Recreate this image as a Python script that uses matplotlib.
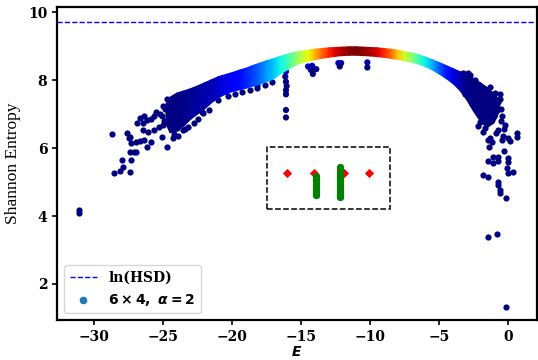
import matplotlib
matplotlib.use("Agg")
import matplotlib.pyplot as plt
import numpy as np
from matplotlib.patches import Rectangle

plt.rcParams['font.family'] = ['DejaVu Serif']
plt.rcParams['mathtext.fontset'] = 'dejavusans'
plt.rcParams['font.weight'] = 'bold'

# ---------------- data ----------------
hsd_level = 9.71  # ln(HSD)

# dense band of eigenstates: energy, upper / lower edge of entropy, point density (0..1)
band_E = [-24.8, -24.5, -24.0, -23.5, -23.0, -22.5, -22.0, -21.5, -21.0, -20.5,
          -20.0, -19.5, -19.0, -18.5, -18.0, -17.5, -17.0, -16.5, -16.0, -15.5,
          -15.0, -14.5, -14.0, -13.5, -13.0, -12.5, -12.0, -11.5, -11.0, -10.5,
          -10.0, -9.5, -9.0, -8.5, -8.0, -7.5, -7.0, -6.5, -6.0, -5.5,
          -5.0, -4.5, -4.0, -3.5, -3.0, -2.5, -2.0, -1.5, -1.0, -0.6]
band_hi = [7.30, 7.50, 7.62, 7.68, 7.75, 7.83, 7.92, 8.01, 8.10, 8.16,
           8.22, 8.29, 8.35, 8.43, 8.50, 8.57, 8.63, 8.70, 8.76, 8.81,
           8.85, 8.88, 8.91, 8.93, 8.95, 8.96, 8.97, 8.98, 8.98, 8.97,
           8.96, 8.95, 8.93, 8.91, 8.88, 8.84, 8.80, 8.75, 8.68, 8.60,
           8.52, 8.43, 8.34, 8.25, 8.18, 8.05, 7.92, 7.78, 7.60, 7.40]
band_lo = [6.70, 6.45, 6.50, 6.65, 6.85, 7.00, 7.15, 7.33, 7.48, 7.58,
           7.66, 7.71, 7.76, 7.82, 7.88, 7.95, 8.03, 8.18, 8.30, 8.42,
           8.50, 8.56, 8.60, 8.64, 8.67, 8.70, 8.72, 8.73, 8.73, 8.72,
           8.71, 8.69, 8.67, 8.64, 8.61, 8.57, 8.53, 8.47, 8.40, 8.30,
           8.18, 8.05, 7.90, 7.70, 7.42, 7.08, 6.78, 6.60, 6.75, 7.10]
band_c = [0.00, 0.00, 0.00, 0.01, 0.02, 0.03, 0.04, 0.05, 0.07, 0.09,
          0.11, 0.13, 0.16, 0.19, 0.23, 0.28, 0.32, 0.37, 0.42, 0.50,
          0.57, 0.64, 0.72, 0.80, 0.87, 0.92, 0.96, 0.99, 1.00, 0.99,
          0.96, 0.92, 0.87, 0.80, 0.70, 0.60, 0.52, 0.43, 0.36, 0.30,
          0.22, 0.15, 0.09, 0.04, 0.01, 0.00, 0.00, 0.00, 0.00, 0.00]

# sparse (low-density) eigenstates
sparse_E = [-31.1, -31.1, -28.7, -27.6, -27.5, -27.3, -27.0, -26.7, -27.4, -27.0,
            -28.0, -27.3, -27.9, -28.1, -28.6, -27.4, -26.5, -26.2, -27.4, -26.9,
            -26.7, -26.4, -25.9, -25.7, -26.5, -26.1, -25.7, -26.4, -25.9, -26.2,
            -27.1, -24.7, -25.1, -25.3, -25.0, -23.6, -24.0, -22.1, -21.7, -25.2,
            -24.9, -25.5, -24.6, -24.3, -23.9, -23.2, -22.8, -22.5,
            -21.0, -20.3, -19.8, -19.3, -18.7, -18.2, -17.6, -17.1, -22.2, -19.3,
            -18.2, -25.0, -25.1, -24.95, -24.7, -24.2, -23.4,
            -3.3, -2.9, -2.75, -2.4, -2.1, -1.7, -1.3, -1.1, -0.94, -0.9,
            -0.7, -0.58, -0.46, -0.22, -0.34, 0.14, 0.65, 0.65, 0.0, -0.7,
            -1.3, -2.0, -1.8, -0.82, -1.54, -1.45, -1.18, -0.46, -1.38, -0.27,
            -1.43, -1.07, -0.7, -1.07, -0.7, 0.02, 0.02, -0.1, 0.34, 0.02,
            -1.79, -1.43, -0.75, -0.7, -0.58, -0.58, -0.15, -1.43, -0.78, -0.17,
            -1.0, -0.5, -1.2, -1.7, -2.2, -0.9, -0.3, -0.5, -0.6, -2.6, -3.1]
sparse_S = [4.18, 4.10, 6.40, 6.45, 6.29, 6.14, 6.19, 6.21, 5.89, 5.89,
            5.65, 5.65, 5.43, 5.32, 5.27, 5.30, 6.73, 6.82, 6.33, 6.74,
            6.87, 6.94, 6.84, 6.94, 6.53, 6.48, 6.53, 6.24, 6.19, 6.04,
            5.89, 6.04, 6.33, 6.63, 6.68, 6.53, 6.58, 7.04, 7.12, 7.00,
            7.15, 7.05, 6.90, 6.30, 6.35, 6.62, 6.75, 6.85,
            7.42, 7.52, 7.60, 7.66, 7.72, 7.78, 7.86, 7.95, 7.07, 7.85,
            7.85, 7.25, 6.95, 6.80, 7.45, 6.40, 6.55,
            8.22, 8.20, 8.15, 8.00, 7.85, 7.70, 7.80, 7.50, 7.61, 7.25,
            7.36, 7.45, 6.95, 6.68, 6.35, 6.22, 6.45, 6.32, 6.29, 6.53,
            6.29, 6.77, 6.48, 7.12, 6.92, 6.24, 6.19, 6.24, 6.04, 5.92,
            5.63, 5.74, 5.74, 5.55, 5.63, 5.70, 5.60, 5.40, 5.30, 5.26,
            5.22, 5.14, 5.01, 4.91, 4.76, 4.67, 4.53, 3.39, 3.47, 1.33,
            6.95, 6.80, 6.80, 6.60, 6.65, 6.45, 6.55, 7.15, 7.60, 7.30, 7.60]

# low-entropy "spikes" hanging below the band
spike_E = [-16.1, -16.15, -16.1, -16.05, -16.1, -16.1, -16.1, -16.1,
           -14.5, -14.2, -14.3, -13.9, -14.15,
           -12.3, -12.1, -12.2,
           -10.2, -10.2]
spike_S = [8.25, 8.10, 7.95, 7.82, 7.70, 7.58, 7.12, 6.90,
           8.40, 8.42, 8.30, 8.32, 8.18,
           8.50, 8.50, 8.40,
           8.52, 8.37]
spike_c = [0.08, 0.02, 0.0, 0.0, 0.0, 0.0, 0.0, 0.0,
           0.05, 0.05, 0.0, 0.0, 0.0,
           0.05, 0.05, 0.0,
           0.05, 0.0]

# highlighted states (red diamonds) and selected states (green)
dia_E = [-16.0, -14.1, -11.9, -10.1]
dia_S = [5.27, 5.27, 5.27, 5.27]
grn_E = [-13.95, -13.95, -13.95, -13.95, -13.95, -13.95, -13.95, -13.95,
         -12.15, -12.15, -12.15, -12.15, -12.15, -12.15, -12.15, -12.15,
         -12.15, -12.15, -12.15, -12.15]
grn_S = [5.18, 5.10, 5.02, 4.94, 4.86, 4.78, 4.70, 4.63,
         5.43, 5.35, 5.27, 5.19, 5.11, 5.03, 4.95, 4.87,
         4.79, 4.71, 4.63, 4.55]

# ---------------- figure ----------------
fig = plt.figure(figsize=(5.38, 3.6), dpi=100)
ax = fig.add_axes([57 / 538, 40 / 360, 480 / 538, 313 / 360])
cmap = plt.get_cmap('jet')

ax.axhline(hsd_level, color='blue', ls='--', lw=1.0, label='ln(HSD)', zorder=1)

ax.scatter(sparse_E, sparse_S, s=20, color=cmap(0.0), zorder=2, linewidths=0)
ax.scatter(spike_E, spike_S, s=20, c=spike_c, cmap='jet', vmin=0, vmax=1,
           zorder=2, linewidths=0)

bx = np.array([band_E, band_E])
by = np.array([band_lo, band_hi])
bc = np.array([band_c, band_c])
ax.pcolormesh(bx, by, bc, shading='gouraud', cmap='jet', vmin=0, vmax=1,
              zorder=3, antialiased=True)

ax.scatter([], [], s=20, color='C0', label=r'$\boldsymbol{6\times 4,\ \alpha = 2}$')

ax.scatter(dia_E, dia_S, marker='D', s=22, color='red', zorder=4, linewidths=0)
ax.scatter(grn_E, grn_S, s=28, color='green', zorder=5, linewidths=0)

ax.add_patch(Rectangle((-17.5, 4.21), 8.95, 1.81, fill=False, ls='--',
                       lw=1.1, edgecolor='black', zorder=6))

ax.set_xlim(-32.7, 2.1)
ax.set_ylim(0.94, 10.15)
ax.set_xticks([-30, -25, -20, -15, -10, -5, 0])
ax.set_yticks([2, 4, 6, 8, 10])
ax.tick_params(labelsize=10, width=1.2, length=3.5)
for sp in ax.spines.values():
    sp.set_linewidth(1.6)

ax.set_xlabel(r'$\boldsymbol{E}$', fontsize=10, labelpad=1)
ax.set_ylabel('Shannon Entropy', fontsize=12.5, fontweight='normal',
              family=['Liberation Serif', 'DejaVu Serif'], labelpad=5)

ax.legend(loc='lower left', fontsize=10)

fig.savefig('out.png', dpi=100)
